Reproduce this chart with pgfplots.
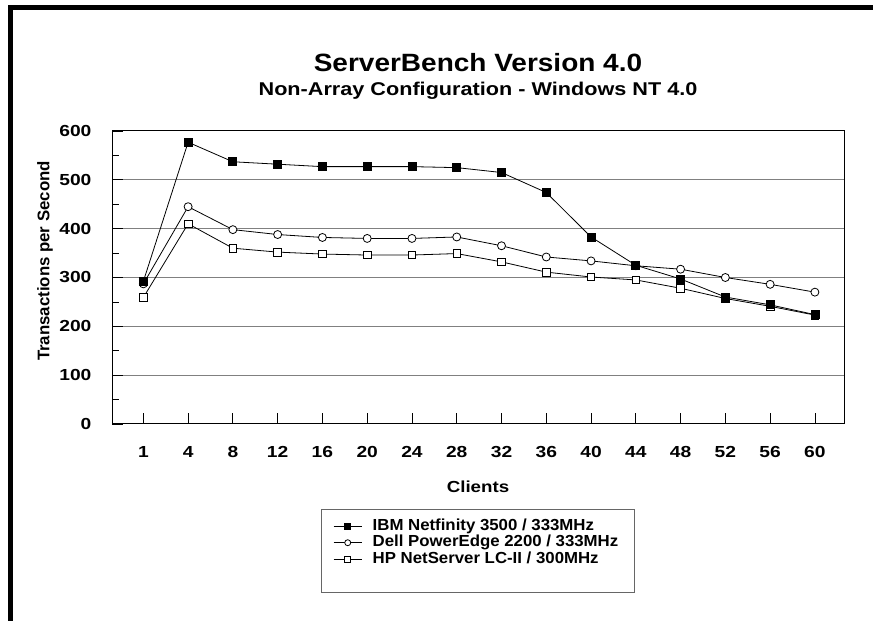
\documentclass[border=0pt]{standalone}
\usepackage{fontspec}
\setmainfont{Liberation Sans}
\usepackage{graphicx}
\usepackage{pgfplots}
\pgfplotsset{compat=1.18}
\newcommand{\wide}[1]{\scalebox{1.05}[1]{#1}\hspace*{16pt}}
\begin{document}
\begin{tikzpicture}[x=1pt,y=1pt]
\useasboundingbox (0,0) rectangle (873,621);
\begin{axis}[
  at={(112pt,197pt)}, anchor=south west,
  scale only axis, width=732pt, height=293pt,
  xmin=-0.7, xmax=15.65, ymin=0, ymax=600,
  clip=false,
  xtick={0,...,15},
  xticklabels={1,4,8,12,16,20,24,28,32,36,40,44,48,52,56,60},
  ytick={0,100,...,600},
  minor ytick={50,150,...,550},
  xtick pos=lower, ytick pos=left,
  ymajorgrids,
  major grid style={draw=black!50, line width=1pt},
  tick align=inside,
  major tick length=11pt, minor tick length=7pt,
  tick style={black, line width=0.8pt},
  axis line style={line width=1pt},
  /pgf/number format/assume math mode=true,
  ticklabel style={font=\fontsize{16}{17}\selectfont\bfseries, xscale=1.2},
  xticklabel style={anchor=north, inner sep=0pt, text height=11.5pt, text depth=0pt, yshift=-21.5pt},
  yticklabel style={anchor=east, inner sep=0pt, xshift=-17pt},
  xlabel={\scalebox{1.17}[1]{Clients}},
  ylabel={Transactions per Second},
  xlabel style={font=\fontsize{16}{17}\selectfont\bfseries, at={(axis description cs:0.5,-0.215)}, anchor=center},
  ylabel style={font=\fontsize{16.8}{17}\selectfont\bfseries, at={(axis description cs:-0.0915,0.556)}, anchor=center},
  legend style={at={(0.5,-0.29)}, anchor=north, draw=black!60, line width=1pt,
    font=\fontsize{16}{17}\selectfont\bfseries,
    nodes={inner xsep=0pt, inner ysep=0.8pt, text height=11.5pt, text depth=3.4pt},
    inner xsep=0pt, inner ysep=8.5pt, column sep=0pt},
  legend cell align=left,
  legend image code/.code={%
    \path[draw=none] (0pt,0pt) -- (51pt,0pt);
    \draw[mark repeat=2,mark phase=2,#1] plot coordinates {(12pt,0pt) (26pt,0pt) (40pt,0pt)};},
  every axis plot/.append style={black, line width=0.8pt},
]
\addplot[mark=square*, mark size=3.8pt, mark options={fill=white}, forget plot] coordinates {
(0,259) (1,410) (2,360) (3,352) (4,348) (5,346) (6,346) (7,349) (8,332) (9,311) (10,301) (11,295) (12,278) (13,257) (14,241) (15,223)};
\addplot[mark=*, mark size=4pt, mark options={fill=white}, forget plot] coordinates {
(0,287) (1,445) (2,398) (3,388) (4,382) (5,380) (6,380) (7,383) (8,365) (9,342) (10,334) (11,324) (12,317) (13,300) (14,286) (15,270)};
\addplot[mark=square*, mark size=4pt, mark options={fill=black}, forget plot] coordinates {
(0,292) (1,577) (2,537) (3,532) (4,527) (5,527) (6,527) (7,525) (8,515) (9,474) (10,383) (11,325) (12,297) (13,260) (14,244) (15,224)};
\addlegendimage{black, line width=0.8pt, mark=square*, mark size=3pt, mark options={fill=black}}
\addlegendentry{\wide{IBM Netfinity 3500 / 333MHz}}
\addlegendimage{black, line width=0.8pt, mark=*, mark size=3pt, mark options={fill=white}}
\addlegendentry{\wide{Dell PowerEdge 2200 / 333MHz}}
\addlegendimage{black, line width=0.8pt, mark=square*, mark size=3pt, mark options={fill=white}}
\addlegendentry{\wide{HP NetServer LC-II / 300MHz}}
\addlegendimage{empty legend}
\addlegendentry{}
\node[anchor=base, font=\fontsize{25}{26}\selectfont\bfseries] at (axis description cs:0.5,1.2014) {\scalebox{1.12}[1]{ServerBench Version 4.0}};
\node[anchor=base, font=\fontsize{18.5}{19}\selectfont\bfseries] at (axis description cs:0.5,1.1195) {\scalebox{1.17}[1]{Non-Array Configuration - Windows NT 4.0}};
\end{axis}
\draw[line width=5pt, line join=miter] (10.5,0) -- (10.5,613.5) -- (873,613.5);
\end{tikzpicture}
\end{document}
